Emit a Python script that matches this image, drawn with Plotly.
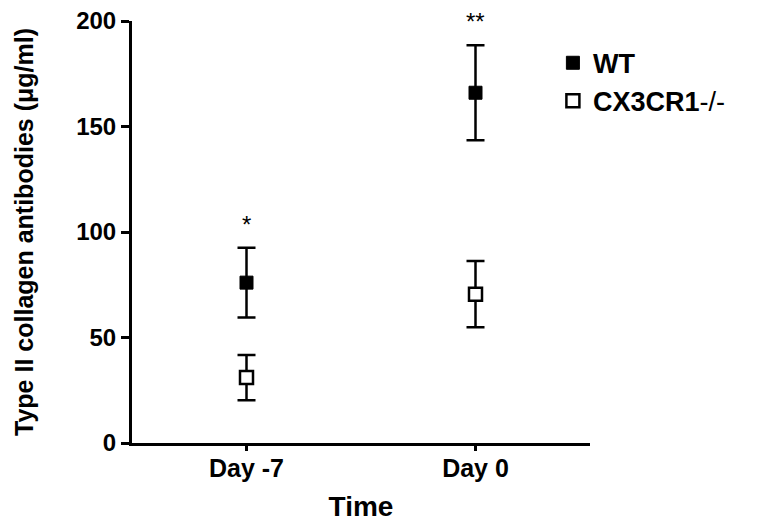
import plotly.graph_objects as go

categories = ["Day -7", "Day 0"]
wt_mean = [76, 166]
wt_err = [16.5, 22.5]
ko_mean = [31, 70.5]
ko_err = [10.7, 15.7]
significance = ["*", "**"]
y_ticks = [0, 50, 100, 150, 200]
series_names = ["<b>WT</b>", "<b>CX3CR1</b>-/-"]

FONT = "Liberation Sans, Arial, sans-serif"

fig = go.Figure()
fig.add_trace(go.Scatter(
    x=categories, y=wt_mean, mode="markers", name=series_names[0],
    marker=dict(symbol="square", size=13, color="black", line=dict(color="black", width=1)),
    error_y=dict(type="data", array=wt_err, visible=True, color="black", thickness=2.5, width=9),
))
fig.add_trace(go.Scatter(
    x=categories, y=ko_mean, mode="markers", name=series_names[1],
    marker=dict(symbol="square", size=13, color="white", line=dict(color="black", width=2.5)),
    error_y=dict(type="data", array=ko_err, visible=True, color="black", thickness=2.5, width=9),
))

for c, m, e, s in zip(categories, wt_mean, wt_err, significance):
    fig.add_annotation(x=c, y=m + e, text=s, showarrow=False, yanchor="bottom", yshift=8,
                       font=dict(family=FONT, size=24, color="black"))

fig.update_layout(
    width=763, height=524,
    margin=dict(l=124, r=181, t=13, b=89, autoexpand=False),
    plot_bgcolor="white", paper_bgcolor="white",
    font=dict(family=FONT, color="black"),
    showlegend=True,
    legend=dict(x=0.919, y=0.958, xanchor="left", yanchor="top",
                font=dict(family=FONT, size=27, color="black"),
                itemwidth=30, tracegroupgap=0, bgcolor="rgba(0,0,0,0)"),
    xaxis=dict(range=[-0.5, 1.5], showline=True, linecolor="black", linewidth=3,
               ticks="outside", ticklen=5, tickwidth=2.5, tickcolor="black",
               showgrid=False, zeroline=False, automargin=False, ticklabelstandoff=-4,
               tickfont=dict(family=FONT, size=25, color="black", weight="bold"),
               title=dict(text="Time", font=dict(family=FONT, size=28, color="black", weight="bold"), standoff=16)),
    yaxis=dict(range=[0, 200], tickvals=y_ticks, showline=True, linecolor="black", linewidth=3,
               ticks="outside", ticklen=8, tickwidth=2.5, tickcolor="black",
               showgrid=False, zeroline=False, ticklabeloverflow="allow", automargin=False,
               tickfont=dict(family=FONT, size=24, color="black", weight="bold"),
               title=dict(text="Type II collagen antibodies (\u03bcg/ml)",
                          font=dict(family=FONT, size=25, color="black", weight="bold"), standoff=36)),
)

fig.write_html("out.html")
